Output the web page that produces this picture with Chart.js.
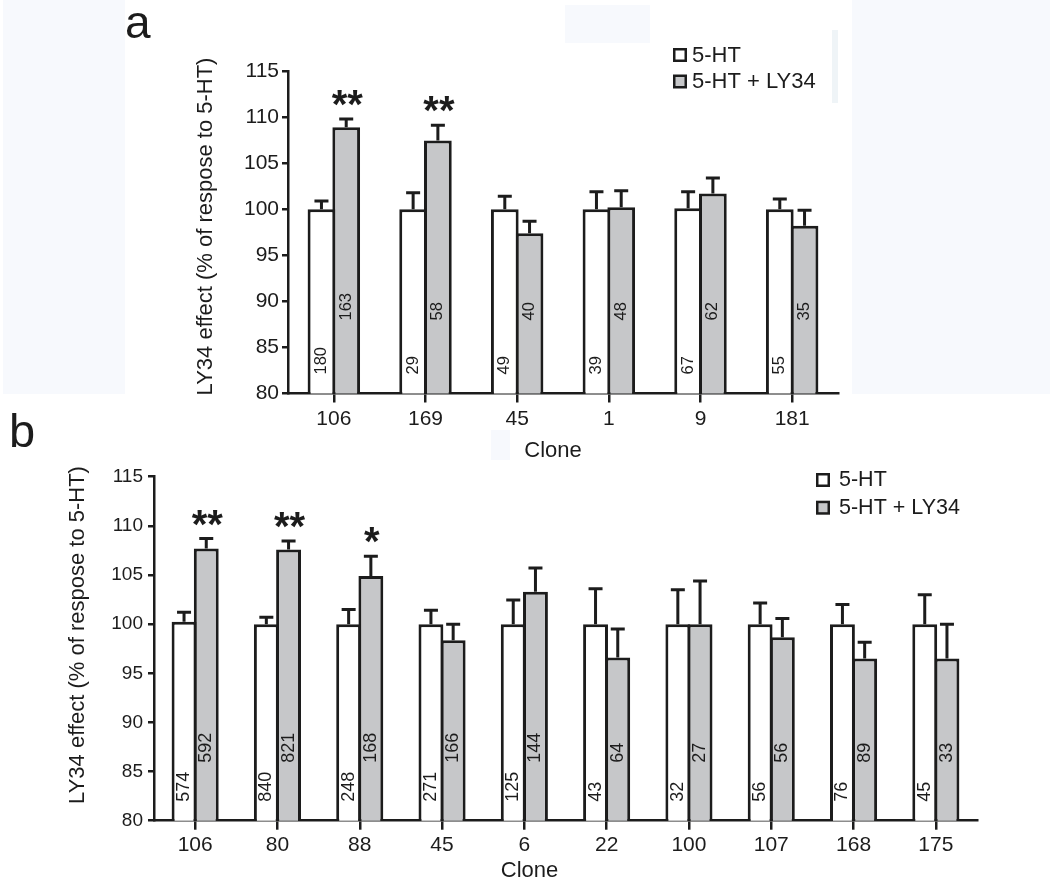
<!DOCTYPE html>
<html>
<head>
<meta charset="utf-8">
<script src="https://cdn.jsdelivr.net/npm/chart.js@4.4.1/dist/chart.umd.min.js"></script>
<style>
  html, body { margin: 0; padding: 0; background: #fff; }
  body { width: 1050px; height: 883px; position: relative; overflow: hidden; }
  .tint { position: absolute; background: #f7f9fd; }
  canvas { position: absolute; left: 0; }
</style>
</head>
<body>
<div class="tint" style="left:3px;top:0;width:122px;height:394px"></div>
<div class="tint" style="left:852px;top:0;width:198px;height:394px"></div>
<div class="tint" style="left:565px;top:5px;width:85px;height:38px"></div>
<div class="tint" style="left:491px;top:430px;width:19px;height:30px"></div>
<div class="tint" style="left:832px;top:30px;width:6px;height:73px;background:#eff4f7"></div>
<canvas id="chartA" width="1050" height="470" style="top:0;width:1050px;height:470px"></canvas>
<canvas id="chartB" width="1050" height="483" style="top:400px;width:1050px;height:483px"></canvas>
<script>
// panel a
const clonesA = ['106', '169', '45', '1', '9', '181']
const mean5HT_A = [100, 100, 100, 100, 100.1, 100]
const meanLY34_A = [108.9, 107.45, 97.4, 100.2, 101.7, 98.2]
const sem5HT_A = [0.9, 1.8, 1.4, 1.9, 1.8, 1.1]
const semLY34_A = [0.9, 1.65, 1.3, 1.8, 1.7, 1.7]
const n5HT_A = [180, 29, 49, 39, 67, 55]
const nLY34_A = [163, 58, 40, 48, 62, 35]
const stars_A = ['**', '**', '', '', '', '']

// panel b
const clonesB = ['106', '80', '88', '45', '6', '22', '100', '107', '168', '175']
const mean5HT_B = [100.25, 100, 100, 100, 100, 100, 100, 100, 100, 100]
const meanLY34_B = [107.7, 107.6, 104.9, 98.35, 103.3, 96.6, 100, 98.66, 96.5, 96.5]
const sem5HT_B = [0.95, 0.7, 1.5, 1.4, 2.45, 3.6, 3.5, 2.15, 2.0, 3.0]
const semLY34_B = [1.0, 0.85, 2.0, 1.65, 2.4, 2.9, 4.4, 1.9, 1.65, 3.5]
const n5HT_B = [574, 840, 248, 271, 125, 43, 32, 56, 76, 45]
const nLY34_B = [592, 821, 168, 166, 144, 64, 27, 56, 89, 33]
const stars_B = ['**', '**', '*', '', '', '', '', '', '', '']

const yTicks = [80, 85, 90, 95, 100, 105, 110, 115]
const seriesNames = ['5-HT', '5-HT + LY34']
const yTitle = 'LY34 effect (% of respose to 5-HT)'
const xTitle = 'Clone'

const INK = '#1c1c1c'
const GRAY = '#c6c7c9'
const FONT = '"Liberation Sans", Arial, Helvetica, sans-serif'

Chart.defaults.font.family = FONT
Chart.defaults.color = INK

function panelPlugin(p) {
  return {
    id: 'panel' + p.letter,
    afterDatasetsDraw(chart) {
      const ctx = chart.ctx
      const yScale = chart.scales.y
      const area = chart.chartArea
      const sems = [p.sem5HT, p.semLY]
      const counts = [p.n5HT, p.nLY]
      ctx.save()
      for (let d = 0; d < 2; d++) {
        const meta = chart.getDatasetMeta(d)
        const means = chart.data.datasets[d].data
        meta.data.forEach((bar, i) => {
          // error bar (upper only)
          const top = yScale.getPixelForValue(means[i] + sems[d][i])
          ctx.strokeStyle = INK
          ctx.lineWidth = 3
          ctx.beginPath()
          ctx.moveTo(bar.x, bar.y)
          ctx.lineTo(bar.x, top)
          ctx.moveTo(bar.x - 7, top)
          ctx.lineTo(bar.x + 7, top)
          ctx.stroke()

          // n inside bar
          ctx.save()
          ctx.translate(bar.x, area.bottom - p.countOffset[d])
          ctx.rotate(-Math.PI / 2)
          ctx.fillStyle = INK
          ctx.font = p.countFont + 'px ' + FONT
          ctx.textAlign = 'left'
          ctx.textBaseline = 'middle'
          ctx.fillText(String(counts[d][i]), 0, 0)
          ctx.restore()

          // significance stars above the LY34 bar
          if (d === 1 && p.stars[i]) {
            ctx.fillStyle = INK
            ctx.font = 'bold 40px ' + FONT
            ctx.textAlign = 'center'
            ctx.textBaseline = 'alphabetic'
            ctx.fillText(p.stars[i], bar.x + 1, top - 24 + 23)
          }
        })
      }
      ctx.restore()
    },
    afterDraw(chart) {
      const ctx = chart.ctx
      ctx.save()
      ctx.fillStyle = INK

      // panel letter
      ctx.font = p.letterFont + 'px ' + FONT
      ctx.textAlign = 'left'
      ctx.textBaseline = 'alphabetic'
      ctx.fillText(p.letter, p.letterPos[0], p.letterPos[1])

      // axis titles
      ctx.font = '22px ' + FONT
      ctx.textAlign = 'center'
      ctx.fillText(xTitle, p.xTitlePos[0], p.xTitlePos[1])
      ctx.save()
      ctx.translate(p.yTitlePos[0], p.yTitlePos[1])
      ctx.rotate(-Math.PI / 2)
      ctx.textBaseline = 'middle'
      ctx.fillText(yTitle, 0, 0)
      ctx.restore()

      // legend
      const fills = ['#ffffff', GRAY]
      ctx.font = p.legend.font + 'px ' + FONT
      ctx.textAlign = 'left'
      ctx.textBaseline = 'middle'
      p.legend.rows.forEach((ry, k) => {
        const s = 14
        ctx.fillStyle = INK
        ctx.fillRect(p.legend.x, ry, s, s)
        ctx.fillStyle = fills[k]
        ctx.fillRect(p.legend.x + 2.5, ry + 2.5, s - 5, s - 5)
        ctx.fillStyle = INK
        ctx.fillText(seriesNames[k], p.legend.textX, ry + s / 2 + 0.5)
      })
      ctx.restore()
    }
  }
}

function makePanel(canvasId, p) {
  const canvas = document.getElementById(canvasId)
  const ctx = canvas.getContext('2d')

  new Chart(ctx, {
    type: 'bar',
    data: {
      labels: p.labels,
      datasets: [
        {
          label: seriesNames[0],
          data: p.mean5HT,
          backgroundColor: '#ffffff',
          borderColor: INK,
          borderWidth: 3,
          categoryPercentage: 0.54,
          barPercentage: 1.12
        },
        {
          label: seriesNames[1],
          data: p.meanLY,
          backgroundColor: GRAY,
          borderColor: INK,
          borderWidth: 3,
          categoryPercentage: 0.54,
          barPercentage: 1.12
        }
      ]
    },
    options: {
      responsive: false,
      animation: false,
      events: [],
      layout: { padding: p.padding },
      plugins: {
        legend: { display: false },
        tooltip: { enabled: false }
      },
      scales: {
        x: {
          offset: true,
          afterFit: (scale) => { scale.height = 40 },
          grid: {
            display: true,
            offset: false,
            drawOnChartArea: false,
            drawTicks: true,
            tickLength: 9,
            color: INK,
            lineWidth: 2.5
          },
          border: { display: true, color: INK, width: 2.5 },
          ticks: {
            color: INK,
            padding: p.xTickPad,
            font: { size: 21 },
            maxRotation: 0,
            autoSkip: false
          }
        },
        y: {
          min: 80,
          max: 115,
          afterFit: (scale) => { scale.width = p.yAxisWidth },
          afterBuildTicks: (scale) => {
            scale.ticks = yTicks.map(v => ({ value: v }))
          },
          grid: {
            display: true,
            drawOnChartArea: false,
            drawTicks: true,
            tickLength: 6,
            color: INK,
            lineWidth: 2.5
          },
          border: { display: true, color: INK, width: 2.5 },
          ticks: {
            color: INK,
            padding: p.yTickPad,
            font: { size: p.yTickFont }
          }
        }
      }
    },
    plugins: [panelPlugin(p)]
  })
}

makePanel('chartA', {
  letter: 'a',
  labels: clonesA,
  mean5HT: mean5HT_A,
  meanLY: meanLY34_A,
  sem5HT: sem5HT_A,
  semLY: semLY34_A,
  n5HT: n5HT_A,
  nLY: nLY34_A,
  stars: stars_A,
  padding: { left: 188, right: 212, top: 71, bottom: 36.5 },
  yAxisWidth: 100,
  yTickFont: 21,
  yTickPad: 3,
  xTickPad: 4,
  countFont: 16.5,
  countOffset: [19, 73],
  letterFont: 46,
  letterPos: [125, 38],
  xTitlePos: [553, 456.5],
  yTitlePos: [206, 226.5],
  legend: { x: 673, rows: [48, 74.5], textX: 692, font: 22 }
})

makePanel('chartB', {
  letter: 'b',
  labels: clonesB,
  mean5HT: mean5HT_B,
  meanLY: meanLY34_B,
  sem5HT: sem5HT_B,
  semLY: semLY34_B,
  n5HT: n5HT_B,
  nLY: nLY34_B,
  stars: stars_B,
  padding: { left: 60, right: 73, top: 76.7, bottom: 22.3 },
  yAxisWidth: 94,
  yTickFont: 19,
  yTickPad: 5,
  xTickPad: 3,
  countFont: 18,
  countOffset: [19, 58],
  letterFont: 47,
  letterPos: [9, 46.7],
  xTitlePos: [529.5, 477],
  yTitlePos: [78, 235],
  legend: { x: 816, rows: [73, 100.7], textX: 839, font: 21.5 }
})
</script>
</body>
</html>
